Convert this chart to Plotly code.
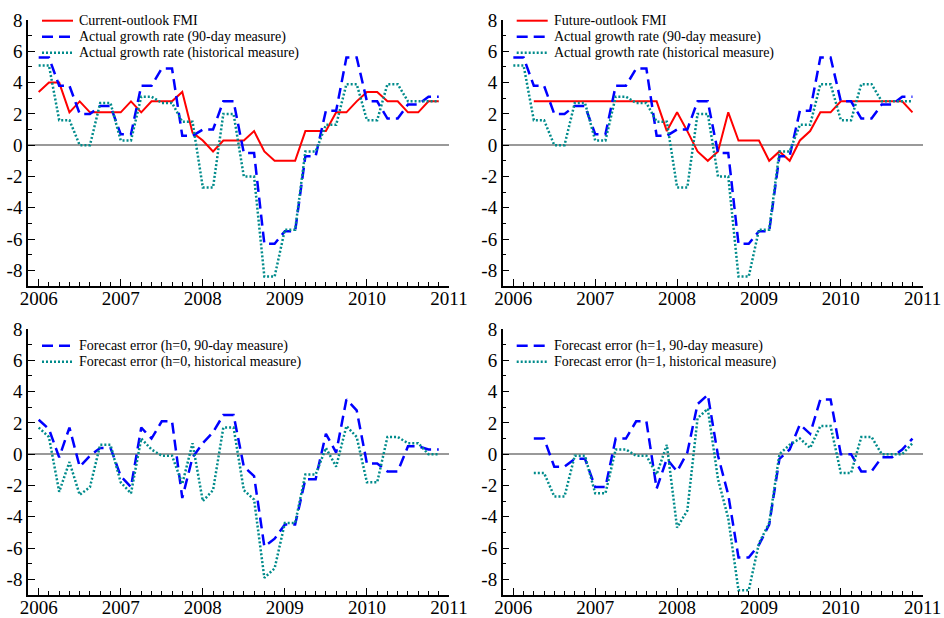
import plotly.graph_objects as go

# FOMC-meeting grid: 8 meetings per year, 2006 .. 2010 (evenly spaced on the chart)
meetings = [2006 + i / 8 for i in range(40)]

current_fmi = [3.4, 4.0, 4.0, 2.1, 2.8, 2.1, 2.1, 2.1, 2.1, 2.8,
               2.1, 2.8, 2.8, 2.8, 3.4, 0.8, 0.3, -0.4, 0.3, 0.3,
               0.3, 0.9, -0.4, -1.0, -1.0, -1.0, 0.9, 0.9, 0.9, 2.1,
               2.1, 2.8, 3.4, 3.4, 2.8, 2.8, 2.1, 2.1, 2.8, 2.8]

future_fmi = [None, None, 2.8, 2.8, 2.8, 2.8, 2.8, 2.8, 2.8, 2.8,
              2.8, 2.8, 2.8, 2.8, 2.8, 0.9, 2.1, 0.9, -0.4, -1.0,
              -0.4, 2.1, 0.3, 0.3, 0.3, -1.0, -0.4, -1.0, 0.3, 0.9,
              2.1, 2.1, 2.8, 2.8, 2.8, 2.8, 2.8, 2.8, 2.8, 2.1]

actual_90day = [5.6, 5.6, 3.8, 3.8, 2.0, 2.0, 2.5, 2.5, 0.7, 0.7,
                3.8, 3.8, 4.9, 4.9, 0.6, 0.6, 1.0, 1.0, 2.8, 2.8,
                -0.5, -0.5, -6.3, -6.3, -5.5, -5.5, -0.7, -0.7, 2.2, 2.2,
                5.6, 5.6, 2.8, 2.8, 1.7, 1.7, 2.6, 2.6, 3.1, 3.1]

actual_hist = [5.1, 5.1, 1.6, 1.6, 0.0, 0.0, 2.7, 2.7, 0.3, 0.3,
               3.1, 3.1, 2.7, 2.7, 1.5, 1.5, -2.7, -2.7, 2.0, 2.0,
               -2.0, -2.0, -8.4, -8.4, -5.4, -5.4, -0.4, -0.4, 1.3, 1.3,
               3.9, 3.9, 1.6, 1.6, 3.9, 3.9, 2.8, 2.8, 2.8, 2.8]

err_h0_90day = [2.2, 1.6, -0.2, 1.7, -0.8, -0.1, 0.4, 0.4, -1.4, -2.1,
                1.7, 1.0, 2.1, 2.1, -2.8, -0.2, 0.7, 1.4, 2.5, 2.5,
                -0.8, -1.4, -5.9, -5.4, -4.5, -4.5, -1.6, -1.6, 1.3, 0.1,
                3.5, 2.8, -0.6, -0.6, -1.1, -1.1, 0.5, 0.5, 0.3, 0.3]

err_h0_hist = [1.7, 1.1, -2.4, -0.5, -2.6, -2.1, 0.6, 0.6, -1.8, -2.5,
               1.0, 0.3, -0.1, -0.1, -1.9, 0.7, -3.0, -2.3, 1.7, 1.7,
               -2.3, -2.9, -7.9, -7.3, -4.4, -4.4, -1.3, -1.3, 0.4, -0.8,
               1.8, 1.1, -1.8, -1.8, 1.1, 1.1, 0.7, 0.7, 0.0, 0.0]

err_h1_90day = [None, None, 1.0, 1.0, -0.8, -0.8, -0.3, -0.3, -2.1, -2.1,
                1.0, 1.0, 2.1, 2.1, -2.2, -0.3, -1.1, 0.1, 3.2, 3.8,
                -0.1, -2.6, -6.6, -6.6, -5.8, -4.5, -0.3, 0.3, 1.9, 1.3,
                3.5, 3.5, 0.0, 0.0, -1.1, -1.1, -0.2, -0.2, 0.3, 1.0]

err_h1_hist = [None, None, -1.2, -1.2, -2.7, -2.7, -0.1, -0.1, -2.5, -2.5,
               0.3, 0.3, -0.1, -0.1, -1.3, 0.6, -4.7, -3.6, 2.3, 2.9,
               -1.6, -4.1, -8.7, -8.7, -5.7, -4.4, 0.0, 0.6, 1.0, 0.4,
               1.8, 1.8, -1.2, -1.2, 1.1, 1.1, 0.0, 0.0, 0.0, 0.7]

year_ticks = [2006, 2007, 2008, 2009, 2010, 2011]
y_ticks = [-8, -6, -4, -2, 0, 2, 4, 6, 8]

RED = "#ff0000"
BLUE = "#0000ff"
TEAL = "#008b8b"
FONT = "Liberation Serif"
W, H = 944, 618

STYLE = {
    "red": dict(color=RED, width=2),
    "blue": dict(color=BLUE, width=2.5, dash="11px,6px"),
    "teal": dict(color=TEAL, width=2.5, dash="2px,2px"),
}

panels = [
    # (axis suffix, pixel box [left, right, top, bottom], series, legend start row)
    ("", (28, 449, 20, 286),
     [(current_fmi, "red", "Current-outlook FMI"),
      (actual_90day, "blue", "Actual growth rate (90-day measure)"),
      (actual_hist, "teal", "Actual growth rate (historical measure)")], 0),
    ("2", (502.7, 922.7, 20, 286),
     [(future_fmi, "red", "Future-outlook FMI"),
      (actual_90day, "blue", "Actual growth rate (90-day measure)"),
      (actual_hist, "teal", "Actual growth rate (historical measure)")], 0),
    ("3", (28, 449, 329, 595),
     [(err_h0_90day, "blue", "Forecast error (h=0, 90-day measure)"),
      (err_h0_hist, "teal", "Forecast error (h=0, historical measure)")], 1),
    ("4", (502.7, 922.7, 329, 595),
     [(err_h1_90day, "blue", "Forecast error (h=1, 90-day measure)"),
      (err_h1_hist, "teal", "Forecast error (h=1, historical measure)")], 1),
]

fig = go.Figure()
layout = dict(
    template="none",
    width=W, height=H,
    margin=dict(l=0, r=0, t=0, b=0, pad=0, autoexpand=False),
    paper_bgcolor="white", plot_bgcolor="white",
    showlegend=False,
    font=dict(family=FONT, color="black"),
)
shapes = []
annotations = []


def px(x):
    return x / W


def py(y):
    return 1 - y / H


for suffix, (l, r, t, b), series, start_row in panels:
    xa = "x" + suffix
    ya = "y" + suffix
    for vals, sty, name in series:
        fig.add_trace(go.Scatter(x=meetings, y=vals, mode="lines", name=name,
                                 line=STYLE[sty], xaxis=xa, yaxis=ya,
                                 connectgaps=False, hoverinfo="x+y"))
    layout["xaxis" + suffix] = dict(
        domain=[px(l), px(r)], anchor=ya, range=[2005.87, 2011],
        automargin=False,
        tickvals=year_ticks, ticktext=[str(v) for v in year_ticks],
        ticks="inside", ticklen=7, tickwidth=1, tickcolor="black",
        minor=dict(ticks="inside", ticklen=4, tickwidth=1, tickcolor="black",
                   tick0=2006, dtick=0.125, showgrid=False),
        showline=True, linecolor="black", linewidth=1.5,
        showgrid=False, zeroline=False,
        ticklabelstandoff=-6,
        tickfont=dict(family=FONT, size=19, color="black"),
    )
    layout["yaxis" + suffix] = dict(
        domain=[py(b), py(t)], anchor=xa, range=[-9, 8],
        automargin=False,
        tickvals=y_ticks, ticktext=[str(v) for v in y_ticks],
        ticks="inside", ticklen=7, tickwidth=1, tickcolor="black",
        minor=dict(ticks="inside", ticklen=4, tickwidth=1, tickcolor="black",
                   tick0=0, dtick=1, showgrid=False),
        showline=True, linecolor="black", linewidth=1.5,
        showgrid=False,
        zeroline=True, zerolinecolor="#999999", zerolinewidth=2,
        tickfont=dict(family=FONT, size=19, color="black"),
    )
    # legend (line sample + label), drawn inside the top-left of each panel
    for i, (vals, sty, name) in enumerate(series):
        row_y = t + 0.7 + 16 * (start_row + i)
        s = STYLE[sty]
        shapes.append(dict(type="line", xref="paper", yref="paper",
                           x0=px(l + 14), x1=px(l + 45), y0=py(row_y), y1=py(row_y),
                           line=dict(color=s["color"], width=s["width"],
                                     dash=s.get("dash", "solid"))))
        annotations.append(dict(xref="paper", yref="paper", x=px(l + 49), y=py(row_y),
                                xanchor="left", yanchor="middle", showarrow=False,
                                text=name, font=dict(family=FONT, size=14, color="black")))

layout["shapes"] = shapes
layout["annotations"] = annotations
fig.update_layout(**layout)
fig.write_html(
    "out.html",
    config={"displayModeBar": False},
    post_script="document.body.style.margin='0px';document.body.style.overflow='hidden';",
)
